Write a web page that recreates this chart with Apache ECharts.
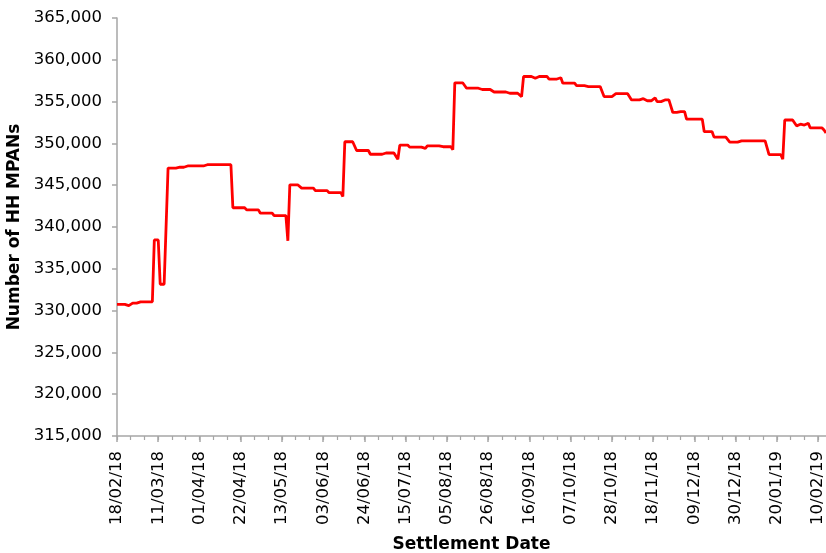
<!DOCTYPE html>
<html>
<head>
<meta charset="utf-8">
<title>HH MPANs</title>
<script src="https://cdn.jsdelivr.net/npm/echarts@6/dist/echarts.min.js"></script>
<style>
  html, body { margin: 0; padding: 0; background: #fff; }
  #main { width: 826px; height: 553px; }
</style>
</head>
<body>
<div id="main"></div>
<script>
// first settlement date shown, one category per day
var startDate = [2018, 1, 18];

// value held for a run of days
var stepValues = [
  330750, 330600, 330900, 331050, 338450, 333150, 347050, 347150, 347300, 347450,
  342300, 342050, 341650, 341350, 338350, 345050, 344650, 344350, 344100, 343650,
  350200, 349150, 348700, 348850, 348100, 349800, 349550, 349400, 349700, 349600, 349250,
  357250, 356600, 356450, 356150, 356000, 355600, 358000, 357800, 358000, 357700, 357850,
  357200, 356900, 357000, 356800, 355600, 355700, 355950, 355200, 355350, 355100, 355450,
  355000, 355200, 353700, 353800, 352900, 351400, 350750, 350150, 350300, 348650, 348100,
  352800, 352100, 352300, 352200, 352400, 351850, 351600, 351250
];
// number of days each value lasts
var stepDays = [
  5, 3, 4, 7, 3, 4, 5, 5, 10, 13,
  7, 7, 7, 7, 1, 6, 7, 7, 7, 1,
  6, 7, 7, 7, 1, 5, 8, 1, 7, 6, 1,
  6, 7, 7, 7, 7, 1, 6, 1, 6, 5, 2,
  7, 5, 1, 8, 5, 1, 8, 5, 3, 4, 1,
  3, 5, 3, 4, 9, 5, 8, 5, 15, 7, 1,
  6, 2, 2, 1, 2, 7, 1, 1
];

function pad(n) { return n < 10 ? '0' + n : '' + n; }

var values = [];
stepValues.forEach(function (v, i) {
  for (var k = 0; k < stepDays[i]; k++) values.push(v);
});

var dates = [];
for (var i = 0; i < values.length; i++) {
  var d = new Date(Date.UTC(startDate[0], startDate[1], startDate[2] + i));
  dates.push(pad(d.getUTCDate()) + '/' + pad(d.getUTCMonth() + 1) + '/' + pad(d.getUTCFullYear() % 100));
}

var font = 'DejaVu Sans';
var grey = '#a6a6a6';

var myChart = echarts.init(document.getElementById('main'));
myChart.setOption({
  animation: false,
  grid: { left: 117, right: 0, top: 18, bottom: 117, containLabel: false, outerBoundsMode: 'none' },
  xAxis: [
    {
      type: 'category',
      data: dates,
      boundaryGap: false,
      position: 'bottom',
      name: 'Settlement Date',
      nameLocation: 'middle',
      nameGap: 100,
      nameTextStyle: { fontFamily: font, fontWeight: 'bold', fontSize: 17, color: '#000' },
      axisLine: { lineStyle: { color: grey, width: 1.5 } },
      // every third week gets a label and a long tick
      axisTick: { interval: 20, length: 6, lineStyle: { color: grey, width: 1.5 } },
      axisLabel: { interval: 20, rotate: 90, margin: 15, fontFamily: font, fontSize: 16.5, color: '#000' },
      splitLine: { show: false }
    },
    {
      // weekly minor ticks
      type: 'category',
      data: dates,
      boundaryGap: false,
      position: 'bottom',
      axisLine: { show: false },
      axisTick: { interval: 6, length: 4, lineStyle: { color: grey, width: 1.2 } },
      axisLabel: { show: false },
      splitLine: { show: false }
    }
  ],
  yAxis: {
    type: 'value',
    min: 315000,
    max: 365000,
    interval: 5000,
    name: 'Number of HH MPANs',
    nameLocation: 'middle',
    nameGap: 93,
    nameTextStyle: { fontFamily: font, fontWeight: 'bold', fontSize: 17, color: '#000' },
    axisLine: { show: true, lineStyle: { color: grey, width: 1.5 } },
    axisTick: { show: true, length: 5, lineStyle: { color: grey, width: 1.5 } },
    axisLabel: {
      margin: 15,
      fontFamily: font,
      fontSize: 16.5,
      color: '#000',
      formatter: function (v) { return v.toLocaleString('en-GB'); }
    },
    splitLine: { show: false }
  },
  series: [
    {
      type: 'line',
      data: values,
      showSymbol: false,
      lineStyle: { color: '#ff0000', width: 2.8 },
      itemStyle: { color: '#ff0000' }
    }
  ]
});
</script>
</body>
</html>
